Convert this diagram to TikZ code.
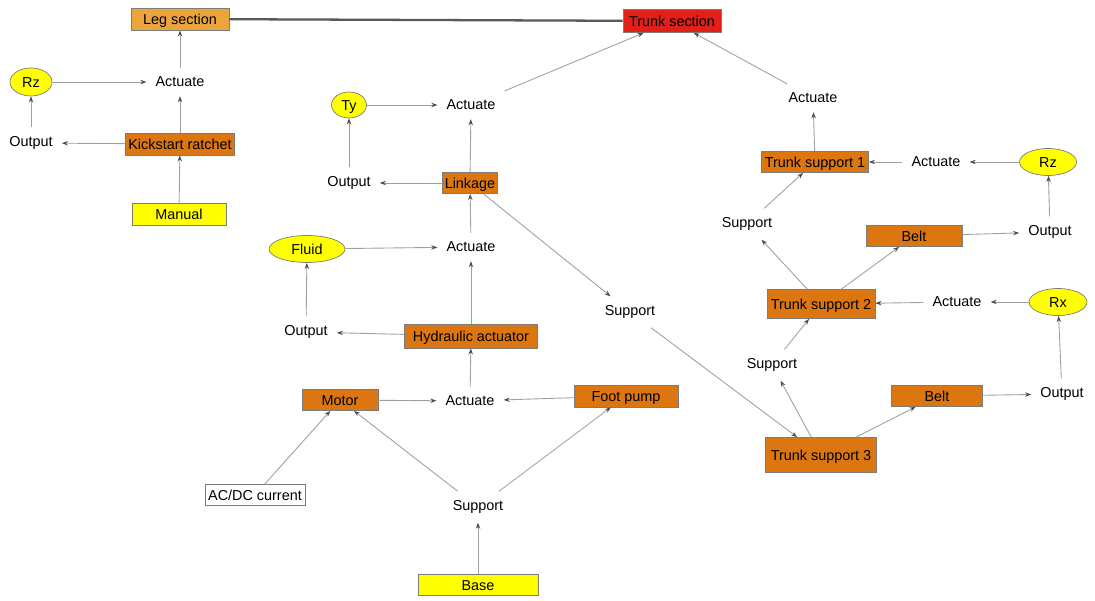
\documentclass[tikz,border=0pt]{standalone}
\usepackage{fontspec}
\setmainfont{Liberation Sans}
\usetikzlibrary{shapes.geometric,arrows.meta}
\definecolor{legorange}{RGB}{236,165,60}
\definecolor{trunkred}{RGB}{226,32,26}
\definecolor{partorange}{RGB}{220,118,16}
\definecolor{inyellow}{RGB}{255,255,0}
\definecolor{edgegray}{RGB}{160,160,160}
\definecolor{boxgray}{RGB}{125,125,125}

\begin{document}
\begin{tikzpicture}[x=0.02cm, y=-0.02cm,
        every node/.style={font=\fontsize{8.2}{10}\selectfont},
        filled/.style={draw=boxgray, inner sep=0pt, text height=5.9pt, text depth=0pt},
        part/.style={filled, fill=partorange, minimum height=0.44cm},
        input/.style={filled, fill=inyellow, minimum height=0.44cm},
        dof/.style={filled, ellipse, fill=inyellow, minimum height=0.54cm},
        verb/.style={inner sep=5pt},
        link/.style={->, draw=edgegray, line width=0.5pt},
        >={Stealth[length=3.5pt, width=2.5pt, color=black!70]}]
        \useasboundingbox (0,0) rectangle (1095,601);

        % sections
        \node[filled, fill=legorange, minimum width=1.96cm, minimum height=0.44cm] (LEG) at (180,19) {Leg section};
        \node[filled, fill=trunkred, minimum width=1.96cm, minimum height=0.46cm] (TRUNK) at (672,21) {Trunk section};

        % leg
        \node[dof, minimum width=0.84cm, minimum height=0.56cm] (RZA) at (31,82) {Rz};
        \node[verb] (ACTA) at (180,82) {Actuate};
        \node[verb] (OUTA) at (31,143) {Output};
        \node[part, minimum width=2.18cm] (KICK) at (180,144) {Kickstart ratchet};
        \node[input, minimum width=1.88cm] (MANUAL) at (179,214) {Manual};

        % trunk lift
        \node[dof, minimum width=0.7cm, minimum height=0.52cm] (TY) at (349,105) {Ty};
        \node[verb] (ACTB) at (471,105) {Actuate};
        \node[verb] (OUTB) at (349,183) {Output};
        \node[part, minimum width=1.1cm, minimum height=0.42cm] (LINK) at (470,183) {Linkage};
        \node[dof, minimum width=1.52cm] (FLUID) at (307,249) {Fluid};
        \node[verb] (ACTC) at (471,247) {Actuate};
        \node[verb] (OUTC) at (306,332) {Output};
        \node[part, minimum width=2.66cm, minimum height=0.48cm] (HYD) at (471,336) {Hydraulic actuator};
        \node[part, minimum width=1.52cm, minimum height=0.42cm] (MOTOR) at (340,400) {Motor};
        \node[verb] (ACTD) at (470,401) {Actuate};
        \node[part, minimum width=2.08cm] (FOOT) at (626,396) {Foot pump};
        \node[filled, fill=white, minimum width=2cm, minimum height=0.42cm] (ACDC) at (255,495) {AC/DC current};
        \node[verb] (SUPA) at (478,507) {Support};
        \node[input, minimum width=2.4cm, minimum height=0.42cm] (BASE) at (478,585) {Base};
        \node[verb] (SUPB) at (630,312) {Support};

        % trunk supports
        \node[verb] (ACTE) at (813,98) {Actuate};
        \node[part, minimum width=2.14cm, minimum height=0.42cm] (TSA) at (815,162) {Trunk support 1};
        \node[verb] (ACTF) at (936,162) {Actuate};
        \node[dof, minimum width=1.14cm] (RZB) at (1048,162) {Rz};
        \node[verb] (OUTD) at (1050,232) {Output};
        \node[part, minimum width=1.92cm, minimum height=0.42cm] (BELTA) at (914,236) {Belt};
        \node[verb] (SUPC) at (747,224) {Support};
        \node[part, minimum width=2.16cm, minimum height=0.58cm] (TSB) at (821,304) {Trunk support 2};
        \node[verb] (ACTG) at (957,302) {Actuate};
        \node[dof, minimum width=1.16cm] (RX) at (1058,302) {Rx};
        \node[verb] (OUTE) at (1062,394) {Output};
        \node[part, minimum width=1.82cm, minimum height=0.42cm] (BELTB) at (937,396) {Belt};
        \node[verb] (SUPD) at (772,365) {Support};
        \node[part, minimum width=2.22cm, minimum height=0.7cm] (TSC) at (821,455) {Trunk support 3};

        \draw[draw=black!65, line width=1.3pt] (LEG) -- (TRUNK);

        \draw[link] (MANUAL) -- (KICK);
        \draw[link] (KICK) -- (ACTA);
        \draw[link] (KICK) -- (OUTA);
        \draw[link] (OUTA) -- (RZA);
        \draw[link] (RZA) -- (ACTA);
        \draw[link] (ACTA) -- (LEG);

        \draw[link] (BASE) -- (SUPA);
        \draw[link] (SUPA) -- (MOTOR);
        \draw[link] (SUPA) -- (FOOT);
        \draw[link] (ACDC) -- (MOTOR);
        \draw[link] (MOTOR) -- (ACTD);
        \draw[link] (FOOT) -- (ACTD);
        \draw[link] (ACTD) -- (HYD);
        \draw[link] (HYD) -- (OUTC);
        \draw[link] (OUTC) -- (FLUID);
        \draw[link] (FLUID) -- (ACTC);
        \draw[link] (HYD) -- (ACTC);
        \draw[link] (ACTC) -- (LINK);
        \draw[link] (LINK) -- (OUTB);
        \draw[link] (OUTB) -- (TY);
        \draw[link] (TY) -- (ACTB);
        \draw[link] (LINK) -- (ACTB);
        \draw[link] (ACTB) -- (TRUNK);
        \draw[link] (LINK) -- (SUPB);
        \draw[link] (SUPB) -- (TSC);

        \draw[link] (TSC) -- (SUPD);
        \draw[link] (TSC) -- (BELTB);
        \draw[link] (BELTB) -- (OUTE);
        \draw[link] (OUTE) -- (RX);
        \draw[link] (RX) -- (ACTG);
        \draw[link] (ACTG) -- (TSB);
        \draw[link] (SUPD) -- (TSB);
        \draw[link] (TSB) -- (SUPC);
        \draw[link] (TSB) -- (BELTA);
        \draw[link] (BELTA) -- (OUTD);
        \draw[link] (OUTD) -- (RZB);
        \draw[link] (RZB) -- (ACTF);
        \draw[link] (ACTF) -- (TSA);
        \draw[link] (SUPC) -- (TSA);
        \draw[link] (TSA) -- (ACTE);
        \draw[link] (ACTE) -- (TRUNK);
\end{tikzpicture}
\end{document}
